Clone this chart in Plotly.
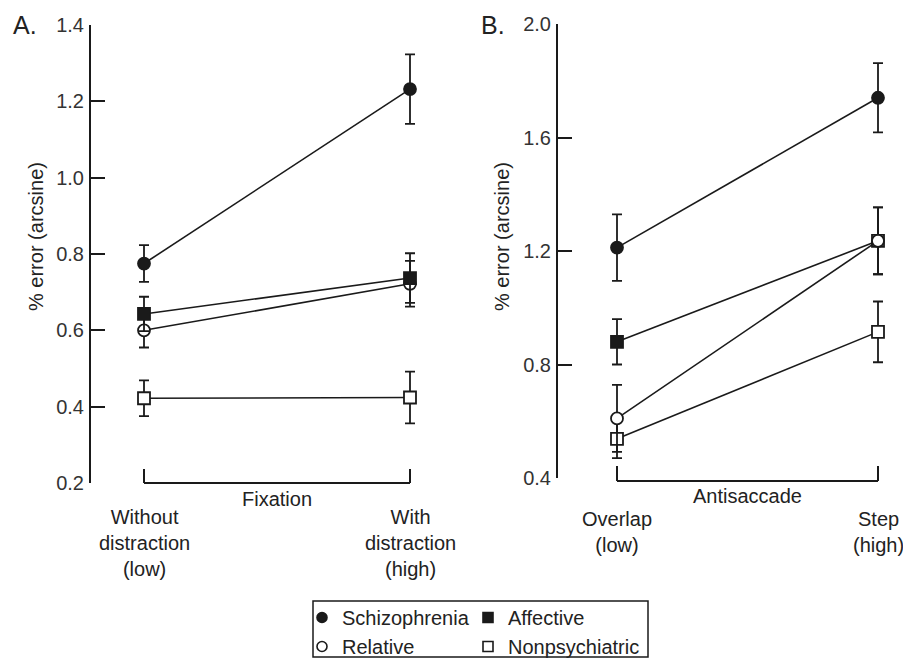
import plotly.graph_objects as go

W, H = 911, 660
OFF = 8  # page body margin offset in the browser

# ---------------- data ----------------
groups = ["Schizophrenia", "Affective", "Relative", "Nonpsychiatric"]

cats_A = ["Without<br>distraction<br>(low)", "With<br>distraction<br>(high)"]
cats_B = ["Overlap<br>(low)", "Step<br>(high)"]
task_A = "Fixation"
task_B = "Antisaccade"

schizo_A = [0.775, 1.232]
schizo_A_err = [0.048, 0.091]
affective_A = [0.643, 0.737]
affective_A_err = [0.045, 0.065]
relative_A = [0.600, 0.722]
relative_A_err = [0.045, 0.060]
nonpsych_A = [0.422, 0.424]
nonpsych_A_err = [0.047, 0.068]

schizo_B = [1.212, 1.740]
schizo_B_err = [0.117, 0.122]
affective_B = [0.880, 1.236]
affective_B_err = [0.080, 0.118]
relative_B = [0.610, 1.236]
relative_B_err = [0.118, 0.118]
nonpsych_B = [0.538, 0.915]
nonpsych_B_err = [0.068, 0.107]

ticks_A = [0.2, 0.4, 0.6, 0.8, 1.0, 1.2, 1.4]
ticks_B = [0.4, 0.8, 1.2, 1.6, 2.0]

# ---------------- style ----------------
INK = "#1a1a1a"
FONT = "Liberation Sans, Arial, Helvetica, sans-serif"
FS = 20

def px_x(p):
    return (p - OFF) / W

def px_y(p):
    return 1 - (p - OFF) / H

styles = {
    "Schizophrenia": dict(symbol="circle", color=INK),
    "Affective": dict(symbol="square", color=INK),
    "Relative": dict(symbol="circle", color="white"),
    "Nonpsychiatric": dict(symbol="square", color="white"),
}

fig = go.Figure()

def add_series(xa, ya, yvals, errs, name, colors=None):
    st = styles[name]
    fig.add_trace(go.Scatter(
        x=list(range(len(yvals))), y=yvals, xaxis=xa, yaxis=ya,
        mode="lines+markers", name=name, showlegend=False,
        line=dict(color=INK, width=1.6),
        marker=dict(symbol=st["symbol"], size=12,
                    color=colors if colors else st["color"],
                    line=dict(color=INK, width=1.8)),
        error_y=dict(type="data", array=errs, visible=True,
                     color=INK, thickness=1.8, width=5),
    ))

# Panel A
add_series("x", "y", nonpsych_A, nonpsych_A_err, "Nonpsychiatric")
add_series("x", "y", relative_A, relative_A_err, "Relative")
add_series("x", "y", affective_A, affective_A_err, "Affective")
add_series("x", "y", schizo_A, schizo_A_err, "Schizophrenia")
# Panel B
add_series("x2", "y2", nonpsych_B, nonpsych_B_err, "Nonpsychiatric")
add_series("x2", "y2", affective_B, affective_B_err, "Affective", colors=[INK, "white"])
add_series("x2", "y2", relative_B, relative_B_err, "Relative")
add_series("x2", "y2", schizo_B, schizo_B_err, "Schizophrenia")

# legend-only traces (markers only)
legend_map = {"Schizophrenia": "legend", "Relative": "legend",
              "Affective": "legend2", "Nonpsychiatric": "legend2"}
for name in ["Schizophrenia", "Relative", "Affective", "Nonpsychiatric"]:
    st = styles[name]
    fig.add_trace(go.Scatter(
        x=[None], y=[None], mode="markers", name=name,
        legend=legend_map[name], showlegend=True,
        marker=dict(symbol=st["symbol"], size=10, color=st["color"],
                    line=dict(color=INK, width=1.6)),
    ))

# axes geometry (screen pixels)
ax_l, c0, c1, ax_r = 91, 144, 410, 430
u = (c1 - c0)
xr_A = [(ax_l - c0) / u, (ax_r - c0) / u]
bx_l, d0, d1, bx_r = 558, 617, 878, 898
v = (d1 - d0)
xr_B = [(bx_l - d0) / v, (bx_r - d0) / v]

common_x = dict(showline=False, showgrid=False, zeroline=False,
                showticklabels=False, ticks="")
common_y = dict(showline=True, linecolor=INK, linewidth=2,
                ticks="inside", ticklen=14, tickwidth=2, tickcolor=INK,
                showgrid=False, zeroline=False,
                tickfont=dict(family=FONT, size=FS, color="#333"),
                ticklabelstandoff=1)

fig.update_layout(
    width=W, height=H,
    margin=dict(l=0, r=0, t=0, b=0, autoexpand=False),
    paper_bgcolor="white", plot_bgcolor="rgba(0,0,0,0)",
    font=dict(family=FONT, size=FS, color="#222"),
    xaxis=dict(domain=[px_x(ax_l), px_x(ax_r)], range=xr_A, **common_x),
    yaxis=dict(domain=[px_y(483), px_y(25)], range=[0.2, 1.4],
               tickvals=ticks_A, ticktext=[f"{t:.1f}" for t in ticks_A],
               anchor="x", **common_y),
    xaxis2=dict(domain=[px_x(bx_l), px_x(bx_r)], range=xr_B, anchor="y2", **common_x),
    yaxis2=dict(domain=[px_y(478), px_y(24)], range=[0.4, 2.0],
                tickvals=ticks_B, ticktext=[f"{t:.1f}" for t in ticks_B],
                anchor="x2", **common_y),
    legend=dict(x=px_x(302), y=px_y(598), xanchor="left", yanchor="top",
                orientation="v", bgcolor="rgba(0,0,0,0)", borderwidth=0,
                font=dict(family=FONT, size=FS, color="#222"),
                tracegroupgap=0, itemwidth=30),
    legend2=dict(x=px_x(468), y=px_y(598), xanchor="left", yanchor="top",
                 orientation="v", bgcolor="rgba(0,0,0,0)", borderwidth=0,
                 font=dict(family=FONT, size=FS, color="#222"),
                 tracegroupgap=0, itemwidth=30),
)

shapes = []
def bracket(xref, n, y_line, y_top):
    shapes.append(dict(type="line", xref=xref, yref="paper",
                       x0=0, x1=n - 1, y0=px_y(y_line), y1=px_y(y_line),
                       line=dict(color=INK, width=2)))
    for xi in (0, n - 1):
        shapes.append(dict(type="line", xref=xref, yref="paper",
                           x0=xi, x1=xi, y0=px_y(y_line), y1=px_y(y_top),
                           line=dict(color=INK, width=2)))

bracket("x", len(cats_A), 483, 469)
bracket("x2", len(cats_B), 481, 466)
# legend frame
shapes.append(dict(type="rect", xref="paper", yref="paper",
                   x0=px_x(313), x1=px_x(648), y0=px_y(657), y1=px_y(601),
                   line=dict(color=INK, width=1.5), fillcolor="rgba(0,0,0,0)"))
fig.update_layout(shapes=shapes)

ann = []
def txt(x, y, s, xref="paper", size=FS, angle=0, xanchor="center", yanchor="middle"):
    ann.append(dict(x=x, y=y, xref=xref, yref="paper", text=s, showarrow=False,
                    textangle=angle, xanchor=xanchor, yanchor=yanchor,
                    font=dict(family=FONT, size=size, color="#222")))

txt(px_x(11), px_y(25), "A.", size=25, xanchor="left")
txt(px_x(479), px_y(25), "B.", size=25, xanchor="left")
txt(px_x(36), px_y(237), "% error (arcsine)", angle=-90)
txt(px_x(502), px_y(237), "% error (arcsine)", angle=-90)
txt((0 + len(cats_A) - 1) / 2, px_y(499), task_A, xref="x")
txt((0 + len(cats_B) - 1) / 2, px_y(496), task_B, xref="x2")
for i, c in enumerate(cats_A):
    txt(i, px_y(543), c, xref="x")
for i, c in enumerate(cats_B):
    txt(i, px_y(532), c, xref="x2")
fig.update_layout(annotations=ann)

fig.write_html("out.html")
